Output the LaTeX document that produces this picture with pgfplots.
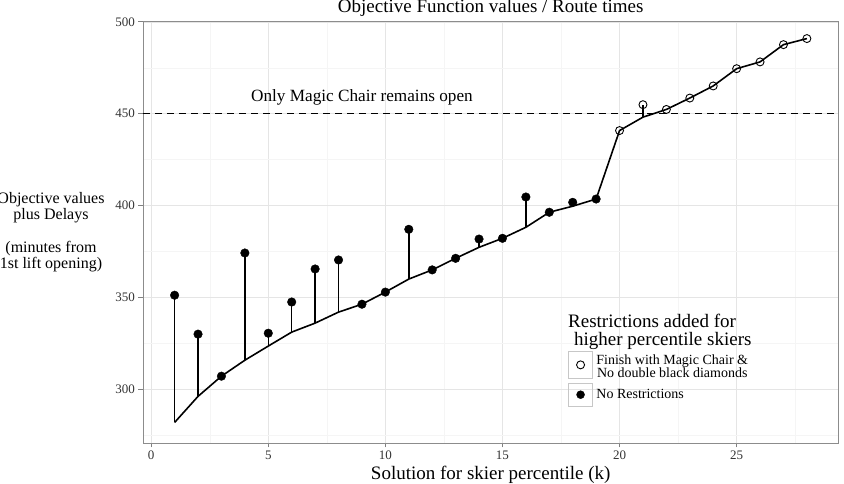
\documentclass[border=0pt]{standalone}
\usepackage{pgfplots}
\pgfplotsset{compat=1.18}
\usepackage{pgfplotstable}
\usepackage{fontspec}
\setmainfont{Liberation Serif}

% k, objective value (b), objective value plus delays (d)
\pgfplotstableread{
k b d
1 281.8 351.1
2 296.0 329.9
3 307.0 307.0
4 315.7 374.1
5 323.4 330.4
6 331.0 347.4
7 335.9 365.4
8 341.9 370.3
9 346.2 346.2
10 352.8 352.8
11 359.9 387.0
12 364.9 364.9
13 371.2 371.2
14 377.2 381.7
15 382.1 382.1
16 388.1 404.6
17 396.3 396.3
18 399.6 401.7
19 403.5 403.5
20 440.8 440.8
21 448.1 454.9
22 452.3 452.3
23 458.5 458.5
24 465.1 465.1
25 474.5 474.5
26 478.2 478.2
27 487.6 487.6
28 490.9 490.9
}\data

% No restrictions (filled)
\pgfplotstableread{
k d
1 351.1
2 329.9
3 307.0
4 374.1
5 330.4
6 347.4
7 365.4
8 370.3
9 346.2
10 352.8
11 387.0
12 364.9
13 371.2
14 381.7
15 382.1
16 404.6
17 396.3
18 401.7
19 403.5
}\norestr

% Finish with Magic Chair & no double black diamonds (open)
\pgfplotstableread{
k d
20 440.8
21 454.9
22 452.3
23 458.5
24 465.1
25 474.5
26 478.2
27 487.6
28 490.9
}\magic

\begin{document}
\begin{tikzpicture}[x=1pt,y=1pt]
\useasboundingbox (0,0) rectangle (844,484);
\begin{axis}[
  at={(143pt,41pt)}, anchor=south west,
  scale only axis, width=695.5pt, height=421.3pt,
  xmin=-0.35, xmax=29.35, ymin=270.6, ymax=500.1,
  xtick={0,5,...,25}, ytick={300,350,...,500},
  minor xtick={2.5,7.5,...,27.5}, minor ytick={275,325,...,475},
  grid=both,
  major grid style={black!10, line width=0.6pt},
  minor grid style={black!4, line width=0.4pt},
  axis line style={black!45, line width=0.9pt},
  xtick pos=bottom, ytick pos=left,
  tick align=outside, major tick length=4.5pt, minor tick length=0pt,
  tick style={black!50, line width=0.9pt},
  /pgf/number format/assume math mode=true,
  ticklabel style={font=\fontsize{13}{15}\selectfont, text=black!80},
  title={Objective Function values / Route times},
  title style={font=\fontsize{19}{22}\selectfont, anchor=base, at={(axis description cs:0.5,1)}, yshift=3pt},
  xlabel={Solution for skier percentile (k)},
  xlabel style={font=\fontsize{19}{22}\selectfont, anchor=base, at={(axis description cs:0.5,0)}, yshift=-37pt},
  ylabel={Objective values\\plus Delays\\[18pt](minutes from\\1st lift opening)},
  ylabel style={font=\fontsize{16}{14.2}\selectfont, align=center, rotate=-90, anchor=center, at={(axis description cs:0,0.5)}, xshift=-92pt},
  legend style={at={(axis description cs:0.6111,0.2191)}, anchor=north west, draw=none, fill=none,
    inner sep=0pt, row sep=0pt, column sep=0pt,
    nodes={inner sep=3.5pt, font=\fontsize{14}{11.5}\selectfont}},
  legend cell align=left,
]
% reference line
\addplot[forget plot, black, line width=1.4pt, dash pattern=on 6.7pt off 5.3pt] coordinates {(-0.35,450) (29.35,450)};
% objective values line
\addplot[forget plot, black, line width=1.6pt, no marks, line join=round] table[x=k, y=b] {\data};
% stems from objective value to value plus delays
\addplot[forget plot, draw=none, no marks,
  error bars/.cd, y dir=plus, y explicit, error mark=none,
  error bar style={black, line width=1.5pt}]
  table[x=k, y=b, y error expr=\thisrow{d}-\thisrow{b}] {\data};
% open circles
\addplot[only marks, mark=o, mark size=4pt, black, line width=0.9pt,
  legend image code/.code={
    \draw[black!22, line width=0.7pt] (0pt,-13.15pt) rectangle (24pt,13.15pt);
    \draw[mark=o, mark size=4pt, line width=0.9pt, black] plot coordinates {(12pt,0pt)};
  }] table[x=k, y=d] {\magic};
\addlegendentry[align=center, yshift=-2pt]{Finish with Magic Chair \&\\No double black diamonds}
% filled dots
\addplot[only marks, mark=*, mark size=4.3pt, black,
  legend image code/.code={
    \draw[black!22, line width=0.7pt] (0pt,-11.5pt) rectangle (24pt,11.5pt);
    \draw[mark=*, mark size=4pt, black] plot coordinates {(12pt,0pt)};
  }] table[x=k, y=d] {\norestr};
\addlegendentry{No Restrictions}
\node[anchor=base, font=\fontsize{17.2}{20}\selectfont] at (axis cs:9,456.7) {Only Magic Chair remains open};
\end{axis}
\node[anchor=base west, font=\fontsize{19}{22}\selectfont, inner sep=0pt] at (568,156) {Restrictions added for};
\node[anchor=base west, font=\fontsize{19}{22}\selectfont, inner sep=0pt] at (574,138) {higher percentile skiers};
\end{tikzpicture}
\end{document}
